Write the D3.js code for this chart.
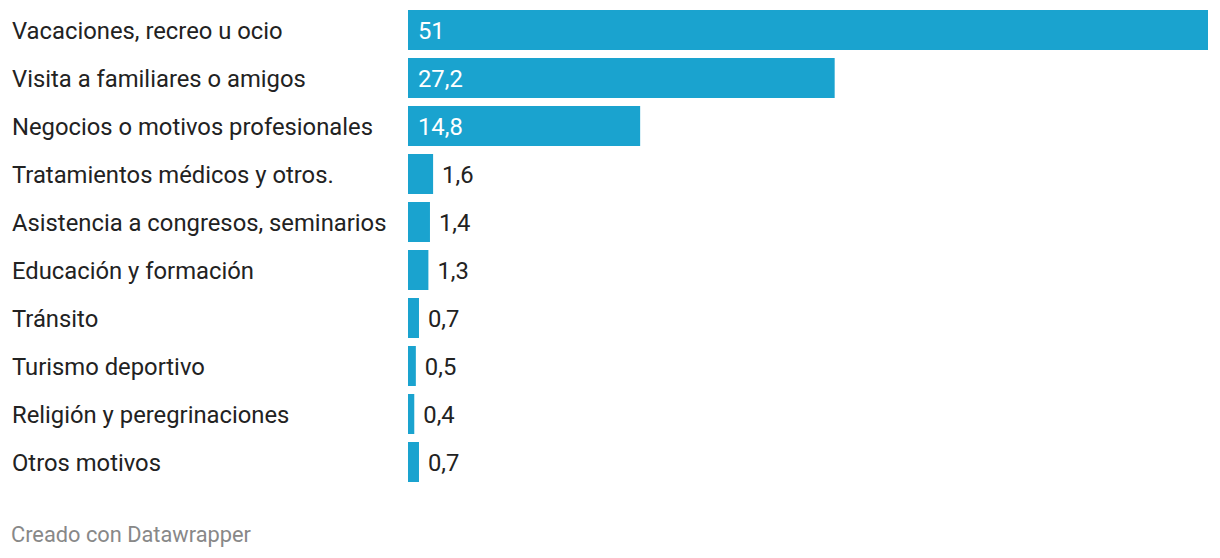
<!DOCTYPE html>
<html>
<head>
<meta charset="utf-8">
<script src="https://cdn.jsdelivr.net/npm/d3@7/dist/d3.min.js"></script>
<style>
  body { margin: 0; background: #fff; }
  text { font-family: Roboto, sans-serif; }
</style>
</head>
<body>
<svg id="chart" width="1220" height="558"></svg>
<script>
var categories = ["Vacaciones, recreo u ocio","Visita a familiares o amigos","Negocios o motivos profesionales",
    "Tratamientos médicos y otros.","Asistencia a congresos, seminarios","Educación y formación",
    "Tránsito","Turismo deportivo","Religión y peregrinaciones","Otros motivos"]
var values = [51, 27.2, 14.8, 1.6, 1.4, 1.3, 0.7, 0.5, 0.4, 0.7]
var valueLabels = ["51","27,2","14,8","1,6","1,4","1,3","0,7","0,5","0,4","0,7"]

var BAR_COLOR = "#1aa3cf"
var svg = d3.select("#chart")

var x = d3.scaleLinear().domain([0, 51]).range([408, 1208])
// 48px per row, 40px bar
var y = d3.scaleBand().domain(d3.range(categories.length))
    .range([10, 10 + 48*10 - 8]).paddingInner(8/48).paddingOuter(0)

var rows = svg.selectAll("g.row").data(values).enter().append("g").attr("class","row")

rows.append("rect")
    .attr("x", x(0))
    .attr("y", (d,i) => y(i))
    .attr("width", d => x(d) - x(0))
    .attr("height", y.bandwidth())
    .attr("fill", BAR_COLOR)

rows.append("text")
    .attr("x", 12)
    .attr("y", (d,i) => y(i) + y.bandwidth()/2)
    .attr("dy", "0.36em")
    .attr("font-size", "23.8px")
    .attr("fill", "#222")
    .text((d,i) => categories[i])

rows.append("text")
    .attr("x", d => (x(d) - x(0)) > 60 ? x(0) + 10 : x(d) + 9)
    .attr("y", (d,i) => y(i) + y.bandwidth()/2)
    .attr("dy", "0.36em")
    .attr("font-size", "23.8px")
    .attr("fill", d => (x(d) - x(0)) > 60 ? "#fff" : "#222")
    .text((d,i) => valueLabels[i])

svg.append("text")
    .attr("x", 11)
    .attr("y", 542)
    .attr("font-size", "21.8px")
    .attr("fill", "#888")
    .text("Creado con Datawrapper")
</script>
</body>
</html>
